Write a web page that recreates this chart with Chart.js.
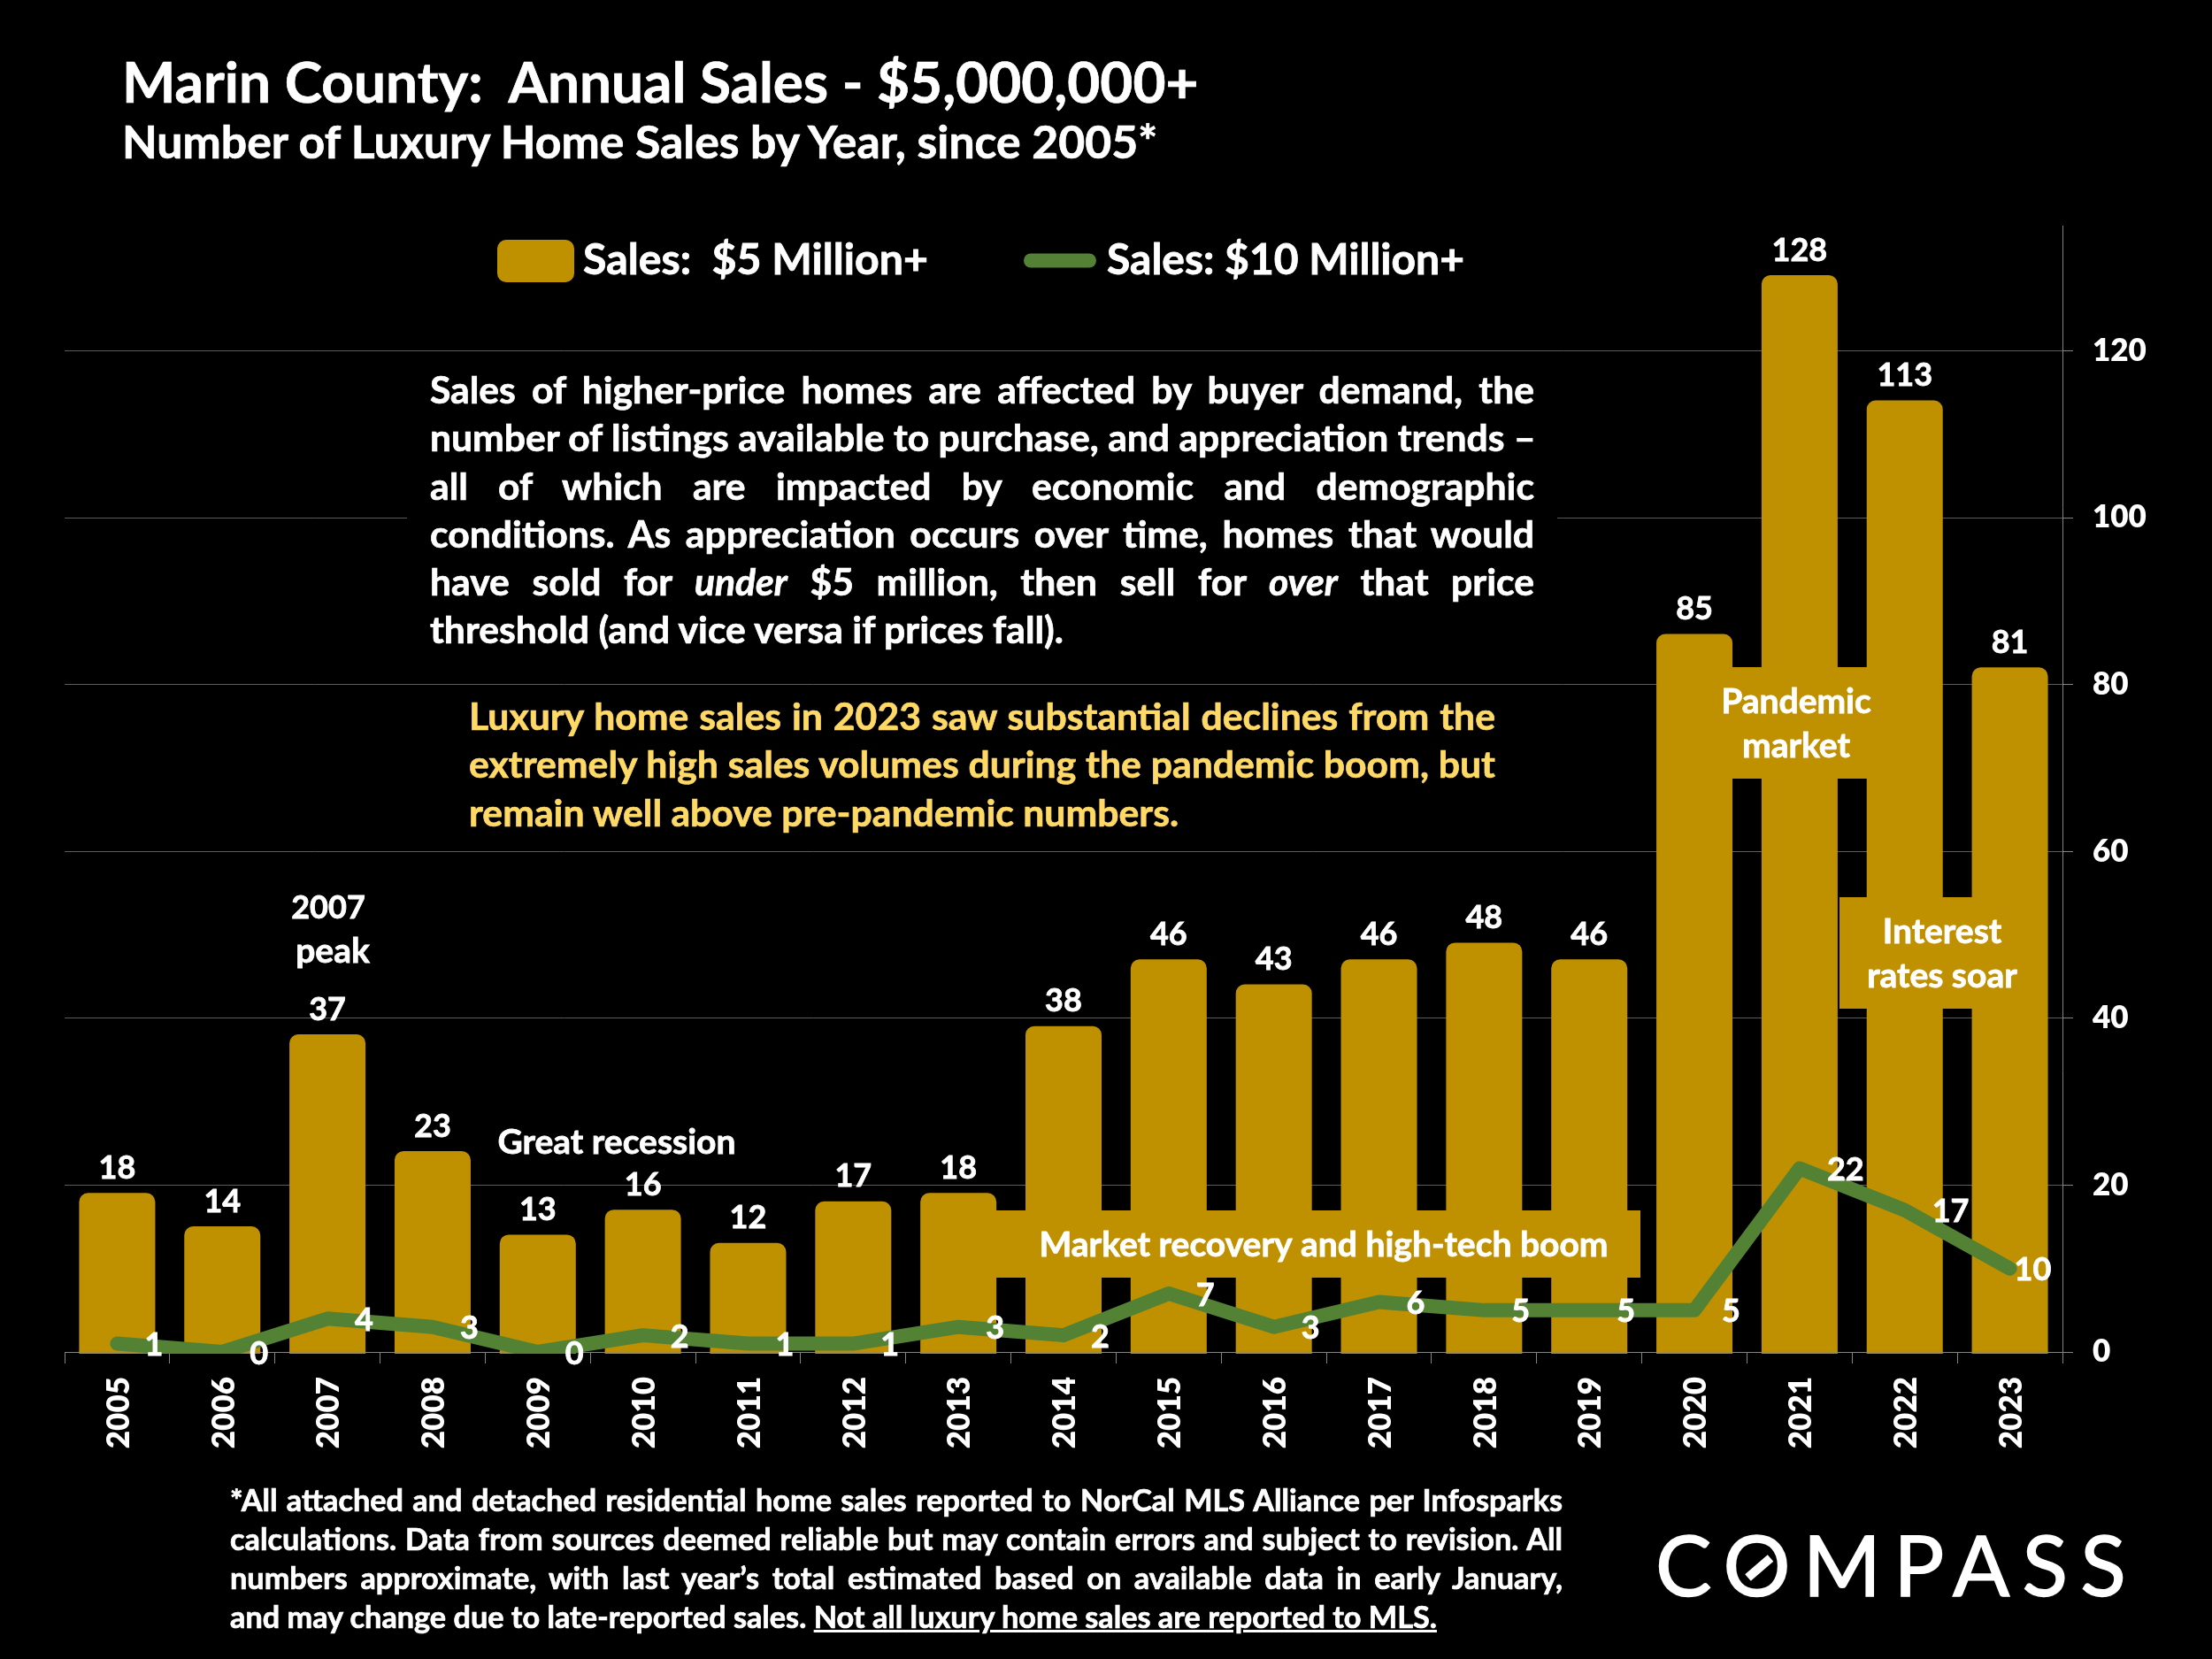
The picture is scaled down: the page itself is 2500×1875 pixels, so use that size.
<!DOCTYPE html>
<html><head><meta charset="utf-8">
<script src="https://cdn.jsdelivr.net/npm/chart.js@4"></script>
<style>
html,body{margin:0;padding:0;background:#000;width:2500px;height:1875px;overflow:hidden}
canvas{position:absolute;left:0;top:0}
.t{position:absolute;font-family:Lato,sans-serif;font-weight:700;color:#fff;line-height:1;white-space:pre;-webkit-text-stroke:.7px currentColor}
.j{white-space:nowrap;text-align:justify;text-align-last:justify}
</style></head><body>
<canvas id="c" width="2500" height="1875"></canvas>
<script>
const categories=['2005','2006','2007','2008','2009','2010','2011','2012','2013','2014','2015','2016','2017','2018','2019','2020','2021','2022','2023'];
const sales5m=[18,14,37,23,13,16,12,17,18,38,46,43,46,48,46,85,128,113,81];
const sales10m=[1,0,4,3,0,2,1,1,3,2,7,3,6,5,5,5,22,17,10];
const seriesNames=['Sales:  $5 Million+','Sales: $10 Million+'];
const titleText='Marin County:  Annual Sales - $5,000,000+';
const subtitleText='Number of Luxury Home Sales by Year, since 2005*';
const bodyLines=['Sales of higher-price homes are affected by buyer demand, the','number of listings available to purchase, and appreciation trends –','all of which are impacted by economic and demographic','conditions. As appreciation occurs over time, homes that would','have sold for <i>under</i> $5 million, then sell for <i>over</i> that price','threshold (and vice versa if prices fall).'];
const yellowLines=['Luxury home sales in 2023 saw substantial declines from the','extremely high sales volumes during the pandemic boom, but','remain well above pre-pandemic numbers.'];
const noteLines=['*All attached and detached residential home sales reported to NorCal MLS Alliance per Infosparks','calculations. Data from sources deemed reliable but may contain errors and subject to revision. All','numbers approximate, with last year’s total estimated based on available data in early January,','and may change due to late-reported sales. <u>Not all luxury home sales are reported to MLS.</u>'];

const GOLD='#BF9000',GREEN='#548235',GRID='#5c5c5c',AXIS='#858585';
const DIGITS='700 36px Lato',WORDS='700 39px Lato';
const mctx=document.createElement('canvas').getContext('2d');
function fit(text,w,style){mctx.font=(style||'700')+' 100px Lato';return 100*w/mctx.measureText(text).width;}
function put(html,x,cy,size,opt){opt=opt||{};const d=document.createElement('div');d.className='t'+(opt.w?' j':'');d.innerHTML=html;
 d.style.left=x+'px';d.style.top=(cy-size/2)+'px';d.style.fontSize=size+'px';if(opt.w)d.style.width=opt.w+'px';if(opt.color)d.style.color=opt.color;document.body.appendChild(d);}
function bold(c,s,x,y){c.fillText(s,x,y);c.strokeText(s,x,y);}

put(titleText,138,92,fit(titleText,1219));
put(subtitleText,138,160,fit(subtitleText,1177));
const bodySize=fit('threshold (and vice versa if prices fall).',719);
[440.5,494.8,549,603.2,657.4,711.5].forEach((y,i)=>put(bodyLines[i],486,y,bodySize,i<5?{w:1248}:{}));
const ySize=fit(yellowLines[2],803);
[809.5,863.5,918].forEach((y,i)=>put(yellowLines[i],530,y,ySize,Object.assign({color:'#FFD966'},i<2?{w:1160}:{})));
const nSize=fit('and may change due to late-reported sales. Not all luxury home sales are reported to MLS.',1366);
[1695,1739,1783,1827].forEach((y,i)=>put(noteLines[i],260,y,nSize,i<3?{w:1506}:{}));

const overlay={id:'overlay',
 beforeDatasetsDraw(ch){const c=ch.ctx;c.save();c.fillStyle='#000';c.fillRect(460,420,1300,330);c.restore();},
 afterDatasetDraw(ch,a){ if(a.index!==0)return;const c=ch.ctx,y0=ch.scales.y.getPixelForValue(0);
  c.save();c.beginPath();c.rect(0,0,2500,y0+1.8);c.clip();c.strokeStyle=GOLD;c.lineWidth=20;c.lineJoin='round';
  a.meta.data.forEach(b=>{c.strokeRect(b.x-b.width/2,b.y,b.width,b.base-b.y);});c.restore();
  c.save();c.fillStyle='#A68C3B';a.meta.data.forEach(b=>{c.fillRect(b.x-b.width/2-10,y0-.5,b.width+20,2.4);});c.restore();
 },
 afterDatasetsDraw(ch){const c=ch.ctx,sx=ch.scales.x,sy=ch.scales.y;c.save();
  c.fillStyle=GOLD;c.fillRect(1900,754,260,126);c.fillRect(2079,1014,225,126);c.fillRect(1100,1368,754,76);
  c.fillStyle='#fff';c.strokeStyle='#fff';c.lineWidth=.8;c.textAlign='center';c.textBaseline='middle';c.font=DIGITS;
  sales5m.forEach((v,i)=>bold(c,String(v),sx.getPixelForValue(i),sy.getPixelForValue(v)-38));
  c.textAlign='left';
  sales10m.forEach((v,i)=>bold(c,String(v),sx.getPixelForValue(i)+(i===sales10m.length-1?5:31),sy.getPixelForValue(v)+2));
  c.textAlign='center';c.font=WORDS;
  [['Pandemic',2030,793],['market',2030,843],['Interest',2195,1053],['rates soar',2195,1103],['Market recovery and high-tech boom',1496,1407],['peak',376,1075],['Great recession',697,1291]].forEach(a=>bold(c,a[0],a[1],a[2]));
  c.font=DIGITS;bold(c,'2007',371,1026);
  // legend
  c.fillStyle=GOLD;c.beginPath();c.roundRect(562,271,87,48,10);c.fill();
  c.strokeStyle=GREEN;c.lineWidth=16;c.lineCap='round';c.beginPath();c.moveTo(1165,294.5);c.lineTo(1231,294.5);c.stroke();
  c.fillStyle='#fff';c.strokeStyle='#fff';c.lineWidth=.8;c.lineCap='butt';c.textAlign='left';
  c.font='700 '+fit(seriesNames[0],390)+'px Lato';bold(c,seriesNames[0],659,294.5);
  c.font='700 '+fit(seriesNames[1],404)+'px Lato';bold(c,seriesNames[1],1251,294.5);
  // logo
  c.font='400 95px Lato';c.letterSpacing='14.3px';c.lineWidth=1.5;c.textBaseline='alphabetic';
  bold(c,'COMPASS',1871,1804);c.letterSpacing='0px';
  c.lineWidth=10;c.beginPath();c.moveTo(1975.5,1783);c.lineTo(2001,1761);c.stroke();
  c.restore();}
};

new Chart(document.getElementById('c'),{
 data:{labels:categories,datasets:[
  {type:'bar',label:seriesNames[0],data:sales5m,backgroundColor:GOLD,barThickness:66,order:2,yAxisID:'y',xAxisID:'x'},
  {type:'line',label:seriesNames[1],data:sales10m,borderColor:GREEN,borderWidth:16,borderCapStyle:'round',borderJoinStyle:'round',tension:0,pointRadius:0,order:1,clip:{left:40,right:40,top:40,bottom:2},yAxisID:'y',xAxisID:'x'}
 ]},
 options:{responsive:false,animation:false,devicePixelRatio:1,
  layout:{padding:{left:73,top:255,right:0,bottom:0}},
  plugins:{legend:{display:false},title:{display:false},tooltip:{enabled:false}},
  scales:{
   x:{type:'category',offset:true,
    grid:{drawOnChartArea:false,drawTicks:true,tickLength:13,color:AXIS,offset:true},
    border:{color:AXIS,width:1},
    ticks:{color:'#fff',font:{family:'Lato',weight:'800',size:35},minRotation:90,maxRotation:90,autoSkip:false,padding:15,labelOffset:2},
    afterFit(s){s.height=347;}},
   y:{position:'right',min:0,max:135,
    grid:{color:GRID,tickColor:AXIS,tickLength:12,lineWidth:1},
    border:{color:AXIS,width:1},
    ticks:{color:'#fff',font:{family:'Lato',weight:'800',size:35},stepSize:20,includeBounds:false,padding:22},
    afterFit(s){s.width=169;}}
  }},
 plugins:[overlay]
});
</script></body></html>
